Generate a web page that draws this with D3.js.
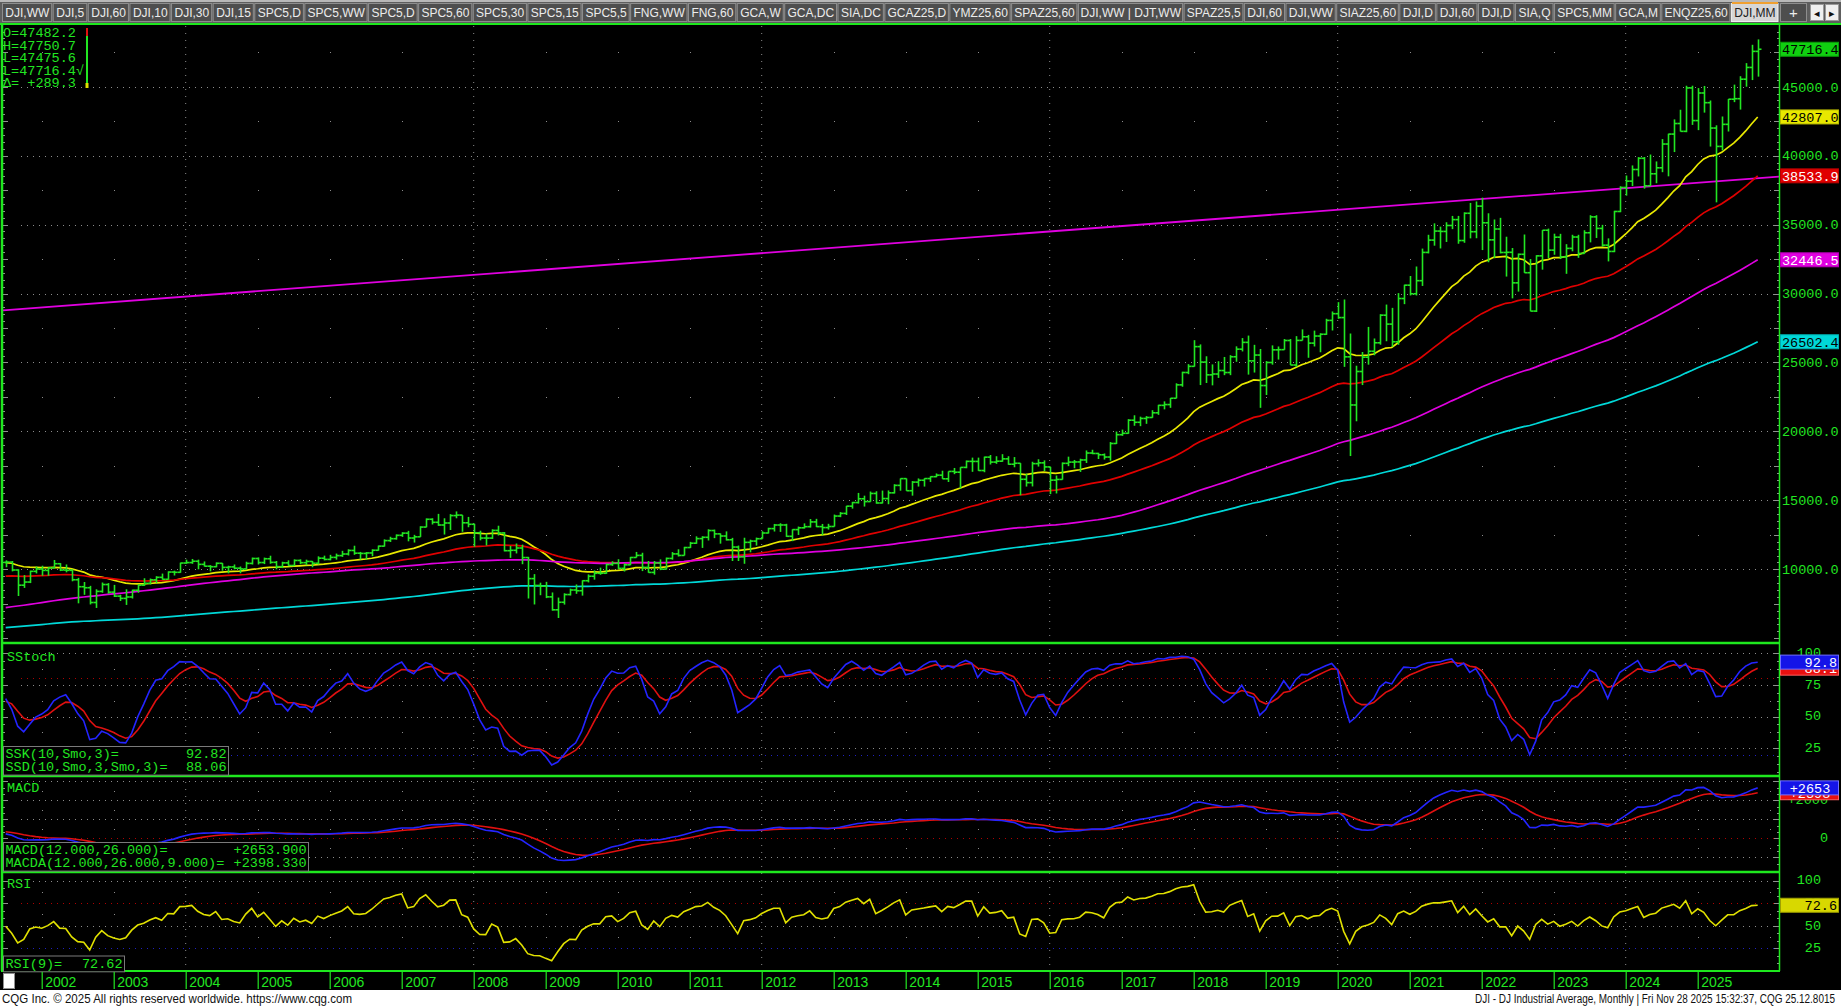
<!DOCTYPE html>
<html><head><meta charset="utf-8">
<script src="https://cdn.jsdelivr.net/npm/d3@7"></script>
<style>
html,body{margin:0;padding:0;background:#000;overflow:hidden;}
svg{display:block;}
</style></head><body>
<svg id="c" width="1841" height="1008"></svg>
<script>
// ---------------- DATA ----------------
// Monthly closes before the loaded bar range (Jan 1980 - Dec 1999), used only to warm up averages/indicators
const historyCloses = [
875,863,786,817,851,868,935,933,932,925,993,964,
947,974,1004,998,992,977,953,882,850,853,889,875,
871,825,823,849,820,812,809,901,896,992,1039,1047,
1076,1113,1130,1226,1200,1222,1199,1216,1233,1225,1276,1259,
1221,1155,1165,1171,1105,1132,1115,1224,1207,1207,1189,1212,
1287,1284,1267,1258,1315,1336,1348,1334,1329,1375,1472,1547,
1571,1710,1819,1784,1877,1893,1775,1898,1768,1878,1914,1896,
2158,2224,2305,2286,2292,2419,2572,2663,2596,1994,1834,1939,
1958,2072,1988,2032,2031,2142,2129,2032,2113,2149,2115,2169,
2342,2258,2294,2419,2480,2440,2661,2737,2693,2645,2706,2753,
2591,2627,2707,2657,2877,2881,2905,2615,2453,2442,2560,2634,
2736,2882,2914,2888,3028,2907,3025,3044,3017,3069,2895,3169,
3224,3267,3236,3359,3397,3319,3394,3257,3272,3226,3305,3301,
3310,3371,3436,3428,3528,3516,3540,3651,3555,3681,3684,3754,
3978,3832,3636,3682,3758,3625,3765,3913,3843,3908,3739,3834,
3844,4011,4158,4321,4465,4556,4709,4611,4789,4756,5075,5117,
5395,5486,5588,5569,5643,5655,5529,5616,5882,6029,6522,6448,
6813,6878,6584,7009,7331,7673,8223,7622,7945,7442,7823,7908,
7907,8546,8800,9063,8900,8952,8883,7539,7843,8592,9117,9181,
9359,9307,9786,10789,10560,10971,10655,10829,10337,10730,10878,11497];

// Monthly OHLC bars, Jan 2000 - Nov 2025
const opens = [
11497,10941,10128,10922,10734,10522,10448,10522,11215,10651,10971,10415,
10788,10887,10495,9879,10735,10912,10502,10523,9950,8848,9075,9852,
10022,9920,10106,10404,9946,9925,9243,8737,8664,7592,8397,8896,
8342,8054,7891,7992,8480,8850,8985,9234,9416,9275,9801,9782,
10454,10488,10584,10358,10226,10188,10435,10140,10174,10080,10027,10428,
10783,10490,10766,10504,10193,10467,10275,10641,10482,10569,10440,10806,
10718,10865,10993,11109,11367,11168,11150,11186,11381,11679,12081,12222,
12463,12622,12269,12354,13063,13628,13409,13212,13358,13896,13930,13372,
13265,12650,12266,12263,12820,12638,11350,11378,11544,10851,9325,8829,
8776,8001,7063,7609,8168,8500,8447,9172,9496,9712,9713,10345,
10428,10067,10325,10857,11009,10137,9774,10466,10015,10788,11118,11006,
11578,11892,12226,12320,12811,12570,12414,12143,11614,10913,11955,12046,
12218,12633,12952,13212,13214,12393,12880,13009,13091,13437,13096,13026,
13104,13861,14054,14579,14840,15116,14910,15500,14810,15130,15546,16086,
16577,15699,16322,16458,16581,16717,16827,16563,17098,17043,17391,17828,
17823,17165,18133,17776,17841,18011,17620,17690,16528,16285,17664,17720,
17425,16466,16517,17685,17774,17787,17930,18432,18401,18308,18142,19124,
19763,19864,20812,20663,20941,21009,21350,21891,21948,22405,23377,24272,
24719,26149,25029,24103,24163,24416,24271,25415,25965,26458,25116,25538,
23327,24999,25916,25929,26593,24815,26600,26864,26403,26917,27046,28051,
28538,28256,25409,21917,24346,25383,25813,26428,28430,27782,26502,29638,
30606,29983,30932,32982,33875,34529,34503,34935,35361,33844,35820,34484,
36338,35132,33893,34678,32977,32990,30775,32845,31510,28726,32733,34590,
33147,34086,32657,33274,34098,32908,34408,35560,34722,33508,33053,35951,
37690,38150,38996,39807,37816,38686,39119,40842,41563,42330,41763,44910,
42544,44544,43841,42001,40669,42270,44094,44130,45544,46397,47562];
const highs = [
11750,11040,11050,11425,10980,10830,10900,11300,11400,10980,11000,10990,
11000,11000,10700,10900,11350,11100,10650,10600,10000,9580,9900,10200,
10260,10150,10673,10450,10350,10000,9380,9077,8800,8550,9043,9000,
8870,8150,8550,8520,8900,9350,9330,9500,9690,9850,9900,10480,
10700,10750,10700,10570,10300,10500,10450,10260,10350,10200,10550,10850,
10860,10850,10985,10600,10550,10650,10720,10720,10700,10600,10940,10990,
11050,11140,11340,11450,11710,11260,11250,11450,11720,12170,12360,12530,
12690,12790,12500,13120,13690,13700,14020,13700,14000,14198,13930,13800,
13300,12800,12600,12900,13160,12700,11700,11870,11790,10900,9650,9030,
9090,8320,7950,8260,8600,8900,9200,9630,9920,10120,10410,10580,
10730,10430,10900,11260,11200,10600,10600,10720,10850,11250,11450,11630,
11990,12390,12400,12900,12880,12600,12750,12280,11720,12290,12150,12300,
12760,13010,13290,13340,13300,12900,13100,13330,13650,13660,13290,13300,
13970,14150,14600,14890,15540,15340,15640,15660,15710,15720,16170,16590,
16590,16400,16590,16600,16740,16950,17150,17100,17350,17400,17890,18100,
18100,18170,18290,18200,18350,18200,18140,17700,16930,17800,17980,17900,
17430,16800,17750,18170,17930,18020,18620,18670,18450,18400,19230,19990,
20130,20890,21170,21070,21110,21540,21930,22180,22420,23490,24330,24880,
26617,26310,25450,24860,25090,25400,25530,26170,26770,26950,26280,25980,
25100,26240,26160,26700,26700,26910,27400,27000,27310,27120,28170,28700,
29375,29568,27100,24765,25760,27580,26740,28500,29200,28960,30030,30640,
31270,31960,33260,34260,35090,34850,35170,35630,35630,35890,36570,36680,
36950,35820,35370,35490,34120,33300,32900,34280,32500,32780,34600,34710,
34340,34330,33580,34260,34260,34590,35680,35680,34980,34000,36000,37780,
38560,39290,39890,39900,40080,39580,41200,41590,42630,43330,45070,45073,
44900,45054,44000,42200,42840,44110,45150,45760,46710,48040,48431];
const lows = [
10700,9731,9731,10300,10270,10280,10400,10560,10620,9654,10200,10300,
10400,10300,9047,9100,10650,10400,10150,9850,8062,8650,9000,9700,
9530,9530,10080,9870,9780,9130,7532,8150,7450,7197,8300,8230,
7990,7700,7416,7880,8300,8800,8900,9000,9250,9250,9550,9750,
10400,10400,10000,10200,9850,10150,9900,9710,10000,9710,10000,10350,
10350,10380,10400,10000,10090,10250,10250,10370,10300,10150,10350,10650,
10650,10700,10900,11000,11050,10700,10700,10950,11350,11650,11980,12150,
12350,12030,11940,12350,13050,13250,13150,12520,12850,13700,12720,13050,
11635,12100,11730,12200,12450,11300,10830,11150,10370,7882,7450,8120,
7910,7000,6470,7440,8100,8220,8090,9050,9250,9600,9680,10250,
10030,9840,10300,10850,9870,9750,9610,9940,9990,10700,10930,11000,
11550,11850,11550,12090,12260,11860,12090,10600,10600,10400,11230,11720,
12220,12600,12740,12710,12350,12040,12490,12960,13030,13060,12470,12880,
13100,13780,13940,14400,14770,14550,14900,14760,14780,14720,15500,15700,
15690,15340,16000,16000,16330,16680,16560,16330,16900,15855,17330,17070,
17140,17040,17600,17650,17800,17580,17400,15370,16000,16010,17450,17130,
15450,15500,16500,17480,17330,17060,17710,18350,18000,17960,17880,19090,
19680,19830,20410,20380,20550,20990,21200,21600,21710,22400,23240,24150,
24700,23360,23510,23340,23880,24080,24080,25050,25800,24120,24270,21710,
22640,24840,25210,25920,24810,24680,26600,25340,26160,25740,27000,27320,
28170,24681,18214,20735,23360,24840,25520,26290,26540,26140,26280,29230,
29860,29860,30550,32910,33470,33270,33740,34670,33610,33680,34000,34010,
33150,32270,32580,32910,31230,29650,30140,31500,28715,28660,31730,32570,
32810,32500,31430,33060,32590,32900,33710,34030,33400,32330,33000,35900,
37100,37800,38490,37610,37800,38000,38800,38500,40260,41750,41700,42230,
41850,43120,40660,36612,40380,41750,43880,43340,45000,45480,45730];
const closes = [
10941,10128,10922,10734,10522,10448,10522,11215,10651,10971,10415,10788,
10887,10495,9879,10735,10912,10502,10523,9950,8848,9075,9852,10022,
9920,10106,10404,9946,9925,9243,8737,8664,7592,8397,8896,8342,
8054,7891,7992,8480,8850,8985,9234,9416,9275,9801,9782,10454,
10488,10584,10358,10226,10188,10435,10140,10174,10080,10027,10428,10783,
10490,10766,10504,10193,10467,10275,10641,10482,10569,10440,10806,10718,
10865,10993,11109,11367,11168,11150,11186,11381,11679,12081,12222,12463,
12622,12269,12354,13063,13628,13409,13212,13358,13896,13930,13372,13265,
12650,12266,12263,12820,12638,11350,11378,11544,10851,9325,8829,8776,
8001,7063,7609,8168,8500,8447,9172,9496,9712,9713,10345,10428,
10067,10325,10857,11009,10137,9774,10466,10015,10788,11118,11006,11578,
11892,12226,12320,12811,12570,12414,12143,11614,10913,11955,12046,12218,
12633,12952,13212,13214,12393,12880,13009,13091,13437,13096,13026,13104,
13861,14054,14579,14840,15116,14910,15500,14810,15130,15546,16086,16577,
15699,16322,16458,16581,16717,16827,16563,17098,17043,17391,17828,17823,
17165,18133,17776,17841,18011,17620,17690,16528,16285,17664,17720,17425,
16466,16517,17685,17774,17787,17930,18432,18401,18308,18142,19124,19763,
19864,20812,20663,20941,21009,21350,21891,21948,22405,23377,24272,24719,
26149,25029,24103,24163,24416,24271,25415,25965,26458,25116,25538,23327,
24999,25916,25929,26593,24815,26600,26864,26403,26917,27046,28051,28538,
28256,25409,21917,24346,25383,25813,26428,28430,27782,26502,29638,30606,
29983,30932,32982,33875,34529,34503,34935,35361,33844,35820,34484,36338,
35132,33893,34678,32977,32990,30775,32845,31510,28726,32733,34590,33147,
34086,32657,33274,34098,32908,34408,35560,34722,33508,33053,35951,37690,
38150,38996,39807,37816,38686,39119,40842,41563,42330,41763,44910,42544,
44544,43841,42001,40669,42270,44094,44130,45544,46397,47562,47716];

const firstVisibleBar = 18;              // Jul 2001
const maTypes = ["EMA","EMA","SMA","EMA"];
const maPeriods = [21, 50, 100, 200];
const maColors = ["#e8e800", "#e00000", "#e000e0", "#00d8d8"];
const maBoxLabels = ["42807.0", "38533.9", "32446.5", "26502.4"];
const trendBars = [18, 310];             // Jul 2001, Nov 2025
const trendValues = [28800, 38365];
const yearLabels = ["2002","2003","2004","2005","2006","2007","2008","2009","2010","2011","2012","2013","2014","2015","2016","2017","2018","2019","2020","2021","2022","2023","2024","2025"];
const priceTicks = [10000,15000,20000,25000,30000,35000,40000,45000];
const infoLines = ["O=47482.2","H=47750.7","L=47475.6","L=47716.4\u221A","\u0394=  +289.3"];
const lastPriceLabel = "47716.4";
const stochLegend = [["SSK(10,Smo,3)=","92.82"],["SSD(10,Smo,3,Smo,3)=","88.06"]];
const macdLegend = [["MACD(12.000,26.000)=","+2653.900"],["MACDA(12.000,26.000,9.000)=","+2398.330"]];
const rsiLegend = [["RSI(9)=","72.62"]];
const stochBoxes = ["92.8","88.1"];
const macdBoxes = ["+2653","+2398"];
const rsiBox = "72.6";
const tabLabels = ["DJI,WW","DJI,5","DJI,60","DJI,10","DJI,30","DJI,15","SPC5,D","SPC5,WW","SPC5,D","SPC5,60","SPC5,30","SPC5,15","SPC5,5","FNG,WW","FNG,60","GCA,W","GCA,DC","SIA,DC","GCAZ25,D","YMZ25,60","SPAZ25,60","DJI,WW  |  DJT,WW","SPAZ25,5","DJI,60","DJI,WW","SIAZ25,60","DJI,D","DJI,60","DJI,D","SIA,Q","SPC5,MM","GCA,M","ENQZ25,60","DJI,MM"];
const footerLeft = "CQG Inc. \u00A9 2025 All rights reserved worldwide. https://www.cqg.com";
const footerRight = "DJI - DJ Industrial Average, Monthly | Fri Nov 28 2025 15:32:37, CQG 25.12.8015";

// ---------------- INDICATORS ----------------
function sma(a,n){return a.map((v,i)=>i<n-1?null:d3.mean(a.slice(i-n+1,i+1)));}
function ema(a,n){const k=2/(n+1);let s=null;return a.map(v=>{if(v==null)return null;s=s==null?v:s+k*(v-s);return s;});}
function smma(a,n){let s=null;return a.map(v=>{if(v==null)return null;s=s==null?v:(s*(n-1)+v)/n;return s;});}
const off = historyCloses.length;
const allC = historyCloses.concat(closes);
const maAll = maPeriods.map((n,k)=>maTypes[k]==="EMA"?ema(allC,n):sma(allC,n));
const maSeries = maAll.map(s=>s.slice(off));

// Smoothed stochastic
const num=[],den=[];
closes.forEach((c,i)=>{ if(i<9){num.push(null);den.push(null);return;}
  const hh=d3.max(highs.slice(i-9,i+1)), ll=d3.min(lows.slice(i-9,i+1));
  num.push(c-ll); den.push(hh-ll);});
const sn=smma(num,3), sd=smma(den,3);
const ssk=sn.map((v,i)=>v==null?null:100*v/sd[i]);
const ssd=smma(ssk,3);
// MACD
const e12=ema(allC,12), e26=ema(allC,26);
const macdAll=e12.map((v,i)=>v-e26[i]);
const sigAll=ema(macdAll,9);
const macd=macdAll.slice(off), macdSig=sigAll.slice(off);
// RSI (Wilder)
const gains=allC.map((v,i)=>i==0?0:Math.max(0,v-allC[i-1]));
const losses=allC.map((v,i)=>i==0?0:Math.max(0,allC[i-1]-v));
const ag=smma(gains,9), al=smma(losses,9);
const rsi=ag.map((g,i)=>100-100/(1+g/al[i])).slice(off);

// ---------------- LAYOUT ----------------
const W=1841,H=1008, PL=3, PR=1779;
const GREEN="#22e622", GRID="#8c8c8c";
const svg=d3.select("#c");
svg.append("rect").attr("width",W).attr("height",H).attr("fill","#000");
const x=d3.scaleLinear().domain([24,300]).range([41.7,1697.7]);
const P={main:[24,642],stoch:[644,775],macd:[777,871],rsi:[873,970]};
const yMain=d3.scaleLinear().domain([10000,45000]).range([569.3,86.7]);
const yStoch=d3.scaleLinear().domain([0,100]).range([780,653]);
const yMacd=d3.scaleLinear().domain([0,2000]).range([838.3,800.3]);
const yRsi=d3.scaleLinear().domain([0,100]).range([970.9,880.5]);
const defs=svg.append("defs");
Object.entries(P).forEach(([k,[t,b]])=>{defs.append("clipPath").attr("id","clip-"+k).append("rect").attr("x",PL).attr("y",t).attr("width",PR-PL).attr("height",b-t);});
const mono="'Liberation Mono','DejaVu Sans Mono',monospace";
const sans="'Liberation Sans','DejaVu Sans',Arial,sans-serif";

// ---------- grids ----------
const grid=svg.append("g");
const yearIdx=yearLabels.map((y,i)=>24+i*12);
const majorYearIdx=yearIdx.filter((d,i)=>(+yearLabels[i])%4===0);
majorYearIdx.forEach(i=>{grid.append("line").attr("x1",x(i)).attr("x2",x(i)).attr("y1",26).attr("y2",970).attr("stroke",GRID).attr("stroke-dasharray","1,6");});
function hgrid(y,col){grid.append("line").attr("x1",PL+18).attr("x2",PR-3).attr("y1",y).attr("y2",y).attr("stroke",col||GRID).attr("stroke-dasharray","1,5");}
priceTicks.forEach(v=>hgrid(Math.round(yMain(v))+0.5));
[100,75,50,25].forEach(v=>hgrid(Math.round(yStoch(v))+0.5));
hgrid(Math.round(yStoch(80))+0.5,"#b00000"); hgrid(Math.round(yStoch(20))+0.5,"#2020c0");
[3000,2000,1000,-1000].forEach(v=>hgrid(Math.round(yMacd(v))+0.5));
hgrid(Math.round(yMacd(0))+0.5,"#b00000");
[100,50].forEach(v=>hgrid(Math.round(yRsi(v))+0.5));
hgrid(Math.round(yRsi(75))+0.5,"#b00000"); hgrid(Math.round(yRsi(25))+0.5,"#2020c0");
const minorX=yearIdx.filter(i=>!majorYearIdx.includes(i)).concat([x.invert(1769.7)]);
const halfLevels=d3.range(12500,50000,5000);
function dot(xx,yy){grid.append("rect").attr("x",Math.round(xx)).attr("y",Math.round(yy)).attr("width",1).attr("height",1).attr("fill",GRID);}
minorX.forEach(i=>{halfLevels.forEach(v=>{const yy=yMain(v);if(yy>30)dot(x(i),yy);});
  [87.5,62.5,37.5].forEach(v=>dot(x(i),yStoch(v)));
  [2500,1500,500,-500].forEach(v=>dot(x(i),yMacd(v)));
  [87.5,62.5,37.5].forEach(v=>dot(x(i),yRsi(v)));});
function edgeTicks(scale,vals,major,top,bottom){vals.forEach(v=>{const yy=Math.round(scale(v))+0.5;if(yy<top+2||yy>bottom-1)return;const L=major(v)?5:2;
  grid.append("line").attr("x1",PL).attr("x2",PL+L).attr("y1",yy).attr("y2",yy).attr("stroke","#909090");
  grid.append("line").attr("x1",PR-L).attr("x2",PR).attr("y1",yy).attr("y2",yy).attr("stroke","#909090");});}
edgeTicks(yMain,d3.range(4500,50000,500),v=>v%2500===0,P.main[0],P.main[1]);
edgeTicks(yStoch,d3.range(0,112,6.25),v=>v%25===0,P.stoch[0],P.stoch[1]);
edgeTicks(yMacd,d3.range(-2000,3400,1000/3),v=>Math.abs(v%1000)<1,P.macd[0],P.macd[1]);
edgeTicks(yRsi,d3.range(0,110,25/3),v=>Math.abs(v%25)<0.01,P.rsi[0],P.rsi[1]);

// ---------- main panel ----------
const gm=svg.append("g").attr("clip-path","url(#clip-main)");
const trendLine=d3.scaleLinear().domain(trendBars).range(trendValues);
gm.append("line").attr("x1",PL).attr("x2",PR).attr("y1",yMain(trendLine(x.invert(PL)))).attr("y2",yMain(trendLine(x.invert(PR))))
  .attr("stroke","#e000e0").attr("stroke-width",1.8);
const idxVis=d3.range(firstVisibleBar,closes.length);
maSeries.forEach((s,k)=>{gm.append("path").datum(idxVis).attr("fill","none").attr("stroke",maColors[k]).attr("stroke-width",1.7)
  .attr("d",d3.line().x(i=>x(i)).y(i=>yMain(s[i])));});
const bars=gm.append("g").attr("stroke",GREEN).attr("stroke-width",1.6).attr("fill","none");
idxVis.forEach(i=>{const xx=Math.round(x(i))+0.5;
  bars.append("line").attr("x1",xx).attr("x2",xx).attr("y1",yMain(highs[i])).attr("y2",yMain(lows[i]));
  bars.append("line").attr("x1",xx-3).attr("x2",xx).attr("y1",yMain(opens[i])).attr("y2",yMain(opens[i]));
  bars.append("line").attr("x1",xx).attr("x2",xx+3).attr("y1",yMain(closes[i])).attr("y2",yMain(closes[i]));});

// ---------- lower panels ----------
function drawLine(g,series,scale,color){g.append("path").datum(idxVis.filter(i=>series[i]!=null)).attr("fill","none").attr("stroke",color).attr("stroke-width",1.6)
  .attr("d",d3.line().x(i=>x(i)).y(i=>scale(series[i])));}
const gs=svg.append("g").attr("clip-path","url(#clip-stoch)");
drawLine(gs,ssd,yStoch,"#e01010"); drawLine(gs,ssk,yStoch,"#2424ff");
const gmac=svg.append("g").attr("clip-path","url(#clip-macd)");
drawLine(gmac,macdSig,yMacd,"#e01010"); drawLine(gmac,macd,yMacd,"#2424ff");
const gr=svg.append("g").attr("clip-path","url(#clip-rsi)");
drawLine(gr,rsi,yRsi,"#e0e000");

// ---------- borders ----------
const bd=svg.append("g").attr("stroke","#1ee81e");
bd.append("line").attr("x1",0).attr("x2",W).attr("y1",24).attr("y2",24).attr("stroke-width",2);
bd.append("line").attr("x1",2).attr("x2",2).attr("y1",24).attr("y2",971).attr("stroke-width",2.5);
bd.append("line").attr("x1",PR+0.5).attr("x2",PR+0.5).attr("y1",24).attr("y2",971).attr("stroke-width",1.5);
[643,776,872,971].forEach(y=>bd.append("line").attr("x1",1).attr("x2",PR+1).attr("y1",y).attr("y2",y).attr("stroke-width",y===971?2:2.5));

// ---------- right axes ----------
function styleAxis(g){g.select(".domain").remove();g.selectAll(".tick line").remove();g.selectAll("text").attr("fill",GREEN).attr("font-family",mono).attr("font-size",13.5);}
const am=svg.append("g").attr("transform",`translate(${PR},0)`).call(d3.axisRight(yMain).tickValues(priceTicks).tickFormat(d=>d.toFixed(1)).tickSize(0));
styleAxis(am); am.selectAll("text").attr("x",3).attr("text-anchor","start");
const as=svg.append("g").attr("transform",`translate(${PR},0)`).call(d3.axisRight(yStoch).tickValues([100,75,50,25]).tickSize(0));
styleAxis(as); as.selectAll("text").attr("x",42).attr("text-anchor","end").attr("dy","0.25em");
const amc=svg.append("g").attr("transform",`translate(${PR},0)`).call(d3.axisRight(yMacd).tickValues([2000,0]).tickFormat(d=>d>0?"+"+d:d).tickSize(0));
styleAxis(amc); amc.selectAll("text").attr("x",49).attr("text-anchor","end").attr("dy","0.25em");
const ar=svg.append("g").attr("transform",`translate(${PR},0)`).call(d3.axisRight(yRsi).tickValues([100,75,50,25]).tickSize(0));
styleAxis(ar); ar.selectAll("text").attr("x",42).attr("text-anchor","end").attr("dy","0.25em");

function valBox(y,label,fill,stroke,tcol,anchor){const g=svg.append("g");
  g.append("rect").attr("x",PR+1.5).attr("y",y-7).attr("width",W-PR-4).attr("height",14).attr("fill",fill).attr("stroke",stroke).attr("stroke-width",1);
  const t=g.append("text").attr("y",y+4.8).attr("fill",tcol).attr("font-family",mono).attr("font-size",13.5).text(label);
  if(anchor==="end")t.attr("x",W-4).attr("text-anchor","end");else if(anchor==="middle")t.attr("x",(PR+W)/2).attr("text-anchor","middle");else t.attr("x",PR+3);}
const last=closes.length-1;
maSeries.slice().reverse().forEach((s,kk)=>{const k=maSeries.length-1-kk;
  const tc=(k===1||k===2)?"#ffffff":"#000000";
  valBox(yMain(+maBoxLabels[k]),maBoxLabels[k],maColors[k],d3.color(maColors[k]).darker(0.6),tc);});
valBox(yMain(closes[last]),lastPriceLabel,"#10d010","#0a9a0a","#000");
valBox(yStoch(+stochLegend[1][1]),stochBoxes[1],"#e81010","#ff6060","#fff","end");
valBox(yStoch(+stochLegend[0][1]),stochBoxes[0],"#1414e8","#7070ff","#fff","end");
valBox(yMacd(+macdLegend[1][1]),macdBoxes[1],"#e81010","#ff6060","#fff","middle");
valBox(yMacd(+macdLegend[0][1]),macdBoxes[0],"#1414e8","#7070ff","#fff","middle");
valBox(yRsi(+rsiLegend[0][1]),rsiBox,"#d8d800","#a0a000","#000","end");

// ---------- panel titles and legends ----------
const tx=svg.append("g").attr("font-family",mono).attr("font-size",13.5).attr("fill",GREEN);
infoLines.forEach((s,i)=>tx.append("text").attr("x",3).attr("y",37+i*12.6).text(s));
svg.append("line").attr("x1",87).attr("x2",87).attr("y1",28).attr("y2",36).attr("stroke","#e01010").attr("stroke-width",2);
svg.append("line").attr("x1",87).attr("x2",87).attr("y1",36).attr("y2",87).attr("stroke",GREEN).attr("stroke-width",2);
svg.append("rect").attr("x",85.5).attr("y",83).attr("width",3).attr("height",5).attr("fill","#e0e000");
tx.append("text").attr("x",7).attr("y",661).text("SStoch");
tx.append("text").attr("x",7).attr("y",792).text("MACD");
tx.append("text").attr("x",7).attr("y",888).text("RSI");
function legend(x0,y0,w,rows){const h=rows.length*12.8+3;
  svg.append("rect").attr("x",x0).attr("y",y0).attr("width",w).attr("height",h).attr("fill","#000").attr("stroke","#7a7a7a").attr("stroke-width",1);
  rows.forEach((r,i)=>{const yy=y0+11.5+i*12.8;
    svg.append("text").attr("x",x0+2).attr("y",yy).attr("font-family",mono).attr("font-size",13.5).attr("fill",GREEN).text(r[0]);
    svg.append("text").attr("x",x0+w-2).attr("y",yy).attr("text-anchor","end").attr("font-family",mono).attr("font-size",13.5).attr("fill",GREEN).text(r[1]);});}
legend(3.5,746.5,225,stochLegend);
legend(3.5,842.5,305,macdLegend);
legend(3.5,956,121,rsiLegend);

// ---------- x axis ----------
const ax=svg.append("g").attr("transform","translate(0,972)").call(d3.axisBottom(x).tickValues(yearIdx).tickFormat((d,i)=>yearLabels[i]).tickSize(17));
ax.select(".domain").remove();
ax.selectAll(".tick line").attr("stroke",GREEN).attr("stroke-width",1.2);
ax.selectAll("text").attr("fill",GREEN).attr("font-family",sans).attr("font-size",14).attr("text-anchor","start").attr("x",3).attr("y",2).attr("dy","0.95em");
svg.append("rect").attr("x",3.5).attr("y",973.5).attr("width",11).attr("height",15).attr("fill","#fff").attr("stroke","#909090");

// ---------- footer ----------
svg.append("rect").attr("x",0).attr("y",990).attr("width",W).attr("height",18).attr("fill","#fff");
svg.append("text").attr("x",2).attr("y",1003).attr("font-family",sans).attr("font-size",12.5).attr("fill","#111").attr("textLength",350).attr("lengthAdjust","spacingAndGlyphs").text(footerLeft);
svg.append("text").attr("x",1835).attr("y",1003).attr("text-anchor","end").attr("font-family",sans).attr("font-size",12.5).attr("fill","#111").attr("textLength",360).attr("lengthAdjust","spacingAndGlyphs").text(footerRight);

// ---------- tab bar ----------
const tb=svg.append("g");
tb.append("rect").attr("x",0).attr("y",0).attr("width",W).attr("height",23).attr("fill","#5e5e5e");
tb.append("rect").attr("x",0).attr("y",0).attr("width",W).attr("height",2).attr("fill","#b8b8b8");
const meas=tb.append("g");
const widths=tabLabels.map(s=>{const t=meas.append("text").attr("font-family",sans).attr("font-size",12).text(s);const w=t.node().getComputedTextLength();t.remove();return w+8;});
const scaleW=(PR-2)/d3.sum(widths);
let cx=2;
tabLabels.forEach((s,i)=>{const w=widths[i]*scaleW;const active=i===tabLabels.length-1;
  tb.append("rect").attr("x",cx+0.5).attr("y",3.5).attr("width",w-1.5).attr("height",18).attr("fill",active?"#d6d6d6":"#4e4e4e").attr("stroke",active?"#f0f0f0":"#8e8e8e");
  if(active)tb.append("rect").attr("x",cx+1).attr("y",2).attr("width",w-2).attr("height",2).attr("fill","#f0a030");
  tb.append("text").attr("x",cx+w/2).attr("y",17).attr("text-anchor","middle").attr("font-family",sans).attr("font-size",12).attr("fill",active?"#202020":"#ececec").text(s);
  cx+=w;});
tb.append("rect").attr("x",PR+1.5).attr("y",3.5).attr("width",26).attr("height",18).attr("fill","#4e4e4e").attr("stroke","#8e8e8e");
tb.append("text").attr("x",PR+14.5).attr("y",17.5).attr("text-anchor","middle").attr("font-family",sans).attr("font-size",15).attr("fill","#ececec").text("+");
[["\u25C2",1811],["\u25B8",1826]].forEach(([c,xx])=>{tb.append("rect").attr("x",xx-0.5).attr("y",4.5).attr("width",13).attr("height",16).attr("fill","#f0f0f0").attr("stroke","#9a9a9a");
  tb.append("text").attr("x",xx+6).attr("y",16.5).attr("text-anchor","middle").attr("font-size",11).attr("fill","#111").text(c);});
</script>
</body></html>
